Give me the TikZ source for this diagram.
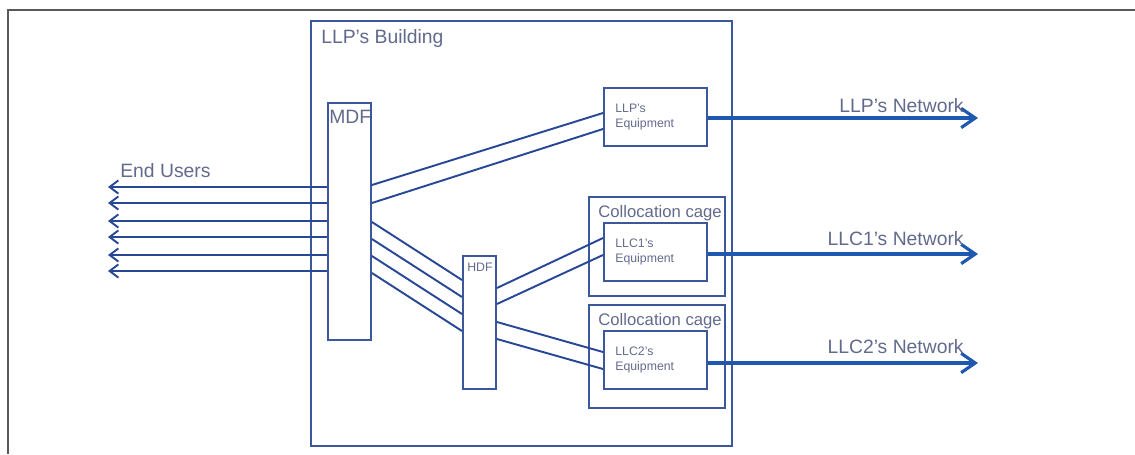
\documentclass[tikz,border=0pt]{standalone}
\usepackage{fontspec}
\setmainfont{Liberation Sans}
\usetikzlibrary{arrows.meta,calc}
\definecolor{wireblue}{RGB}{40,72,150}
\definecolor{netblue}{RGB}{30,88,175}
\definecolor{boxblue}{RGB}{60,88,155}
\definecolor{textgray}{RGB}{98,106,140}
\tikzset{
  box/.style={draw=boxblue, line width=1.1pt, inner sep=0pt, anchor=north west},
  wire/.style={wireblue, line width=1.1pt},
  userarrow/.style={wire, -{Straight Barb[length=5pt,width=7.5pt]}},
  netarrow/.style={netblue, line width=1.8pt, -{Straight Barb[length=8pt,width=11pt]}},
  lbl/.style={text=textgray, inner sep=0pt, font=\fontsize{11}{13}\selectfont},
  cagelbl/.style={lbl, font=\fontsize{9.5}{11}\selectfont},
  eqlbl/.style={lbl, align=left, font=\fontsize{7}{8.5}\selectfont},
}
\begin{document}
\begin{tikzpicture}[x=0.02cm,y=-0.02cm]
\useasboundingbox (0,0) rectangle (1135,454);
\draw[gray!70!black, line width=1.1pt] (8,454) -- (8,10) -- (1135,10);
\node[box, line width=1.4pt, minimum width=8.42cm, minimum height=8.5cm] (bldg) at (310,20) {};
\node[box, minimum width=0.86cm, minimum height=4.74cm] (mdf) at (327,102) {};
\node[box, minimum width=0.66cm, minimum height=2.66cm] (hdf) at (462,255) {};
\node[box, minimum width=2.06cm, minimum height=1.16cm] (llpeq) at (603,87) {};
\node[box, minimum width=2.72cm, minimum height=1.98cm] (cage1) at (588,196) {};
\node[box, minimum width=2.06cm, minimum height=1.16cm] (llc1eq) at (603,222) {};
\node[box, minimum width=2.72cm, minimum height=2.06cm] (cage2) at (588,304) {};
\node[box, minimum width=2.06cm, minimum height=1.16cm] (llc2eq) at (603,330) {};
\node[lbl, anchor=base west] (bldgtxt) at (321,43) {LLP's Building};
\node[lbl, anchor=base west] (mdftxt) at (329,123) {MDF};
\node[lbl, anchor=base west, font=\fontsize{7}{8}\selectfont] (hdftxt) at (467,271) {HDF};
\node[cagelbl, anchor=base west] (cage1txt) at (598,217) {Collocation cage};
\node[cagelbl, anchor=base west] (cage2txt) at (598,325) {Collocation cage};
\node[eqlbl, anchor=west] (llptxt) at ($(llpeq.west)+(12,0)$) {LLP's\\Equipment};
\node[eqlbl, anchor=west] (llc1txt) at ($(llc1eq.west)+(12,0)$) {LLC1's\\Equipment};
\node[eqlbl, anchor=west] (llc2txt) at ($(llc2eq.west)+(12,0)$) {LLC2's\\Equipment};
\coordinate (userend) at (108,187);
\node[lbl, anchor=base west] (users) at (120,177) {End Users};
\foreach \y in {187,203,221,237,255,271}
  \draw[userarrow] (mdf.west |- 0,\y) -- (userend |- 0,\y);
\draw[wire] (mdf.east |- 0,185) -- (llpeq.west |- 0,113);
\draw[wire] (mdf.east |- 0,203) -- (llpeq.west |- 0,129);
\foreach \a/\b in {222/280,239/297,256/314,273/331}
  \draw[wire] (mdf.east |- 0,\a) -- (hdf.west |- 0,\b);
\foreach \a/\b in {288/238,304/255}
  \draw[wire] (hdf.east |- 0,\a) -- (llc1eq.west |- 0,\b);
\foreach \a/\b in {322/352,339/369}
  \draw[wire] (hdf.east |- 0,\a) -- (llc2eq.west |- 0,\b);
\coordinate (llpnet) at (978,118);
\coordinate (llc1net) at (978,254);
\coordinate (llc2net) at (978,363);
\draw[netarrow] (llpeq.east |- llpnet) -- (llpnet);
\draw[netarrow] (llc1eq.east |- llc1net) -- (llc1net);
\draw[netarrow] (llc2eq.east |- llc2net) -- (llc2net);
\node[lbl, anchor=base east] (llpnettxt) at ($(llpnet)+(-14,-6)$) {LLP's Network};
\node[lbl, anchor=base east] (llc1nettxt) at ($(llc1net)+(-14,-9)$) {LLC1's Network};
\node[lbl, anchor=base east] (llc2nettxt) at ($(llc2net)+(-14,-10)$) {LLC2's Network};
\end{tikzpicture}
\end{document}
